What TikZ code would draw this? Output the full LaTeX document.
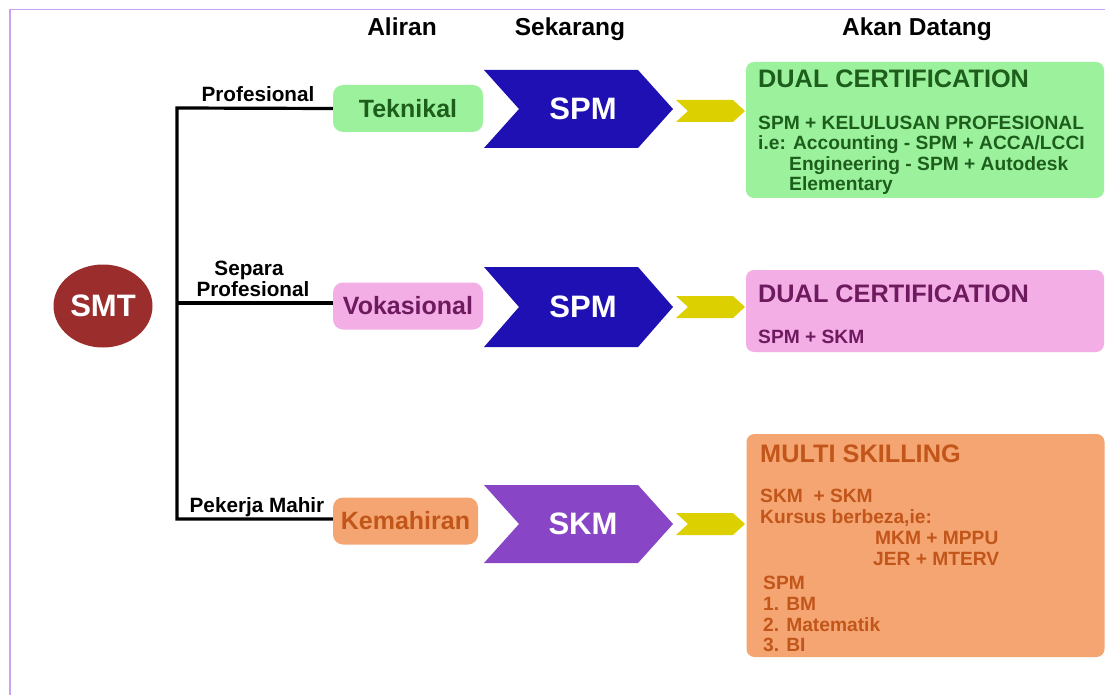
\documentclass[tikz,border=0pt]{standalone}
\usepackage{fontspec}
\setmainfont{Liberation Sans}
\usetikzlibrary{shapes.geometric}
\definecolor{framec}{HTML}{C9A2F2}
\definecolor{smtc}{HTML}{9B2D2D}
\definecolor{gfill}{HTML}{9CF29C}
\definecolor{gtext}{HTML}{1D5E1D}
\definecolor{pfill}{HTML}{F4AEE6}
\definecolor{ptext}{HTML}{6E1A5E}
\definecolor{ofill}{HTML}{F4A572}
\definecolor{otext}{HTML}{C2561A}
\definecolor{spmc}{HTML}{1E10B2}
\definecolor{skmc}{HTML}{8846C6}
\definecolor{yelc}{HTML}{DDD000}
\newcommand{\fsz}[1]{\fontsize{#1}{#1}\selectfont}
\begin{document}
\begin{tikzpicture}[x=1pt,y=-1pt,
  hdr/.style={inner sep=0pt, anchor=base, font=\bfseries\fsz{24.5}},
  brl/.style={inner sep=0pt, anchor=base, font=\bfseries\fsz{20.7}},
  abox/.style={rounded corners=10pt, inner sep=0pt, minimum width=150pt, minimum height=47pt, font=\bfseries\fsz{25}},
  chevtxt/.style={inner sep=0pt, text=white, font=\bfseries\fsz{31}},
  rbox/.style={rounded corners=8pt, inner sep=0pt, minimum width=358pt},
  ttl/.style={inner sep=0pt, anchor=base west, font=\bfseries\fsz{25.3}},
  body/.style={inner sep=0pt, anchor=base west, font=\bfseries\fsz{19.2}},
  tree/.style={line width=3.2pt, black}
]
\useasboundingbox (0,0) rectangle (1105,695);
\fill[white] (0,0) rectangle (1105,695);
\draw[framec, line width=1.6pt] (10,695) -- (10,9.5) -- (1105,9.5);

% headers
\node[hdr] (h1) at (402,36) {Aliran};
\node[hdr] (h2) at (570,36) {Sekarang};
\node[hdr] (h3) at (917,36) {Akan Datang};

% SMT
\node[ellipse, fill=smtc, minimum width=99pt, minimum height=83pt, inner sep=0pt, text=white, font=\bfseries\fsz{31}] (smt) at (103,306) {SMT};

% aliran boxes
\node[abox, fill=gfill, text=gtext] (tek) at (408,108.5) {Teknikal};
\node[abox, fill=pfill, text=ptext] (vok) at (408,306) {Vokasional};
\node[abox, fill=ofill, text=otext, minimum width=145pt] (kem) at (405.5,521) {Kemahiran};

% tree
\coordinate (t1) at (177,108);
\coordinate (t2) at (177,303);
\coordinate (t3) at (177,519);
\draw[tree] (tek.west) -- (t1) -- (t3) -- (t3 -| kem.west);
\draw[tree] (t2) -- (t2 -| vok.west);

% branch labels
\node[brl] (b1) at (258,102) {Profesional};
\node[brl] (b2a) at (249,275) {Separa};
\node[brl] (b2b) at (253,296) {Profesional};
\node[brl] (b3) at (257,512) {Pekerja Mahir};

% chevrons
\fill[spmc] (484,70) -- (638,70) -- (673,109) -- (638,148) -- (484,148) -- (519,109) -- cycle;
\node[chevtxt] (c1) at (583,109) {SPM};
\fill[spmc] (484,267) -- (638,267) -- (673,307) -- (638,347) -- (484,347) -- (519,307) -- cycle;
\node[chevtxt] (c2) at (583,307) {SPM};
\fill[skmc] (484,485) -- (638,485) -- (673,524) -- (638,563) -- (484,563) -- (519,524) -- cycle;
\node[chevtxt] (c3) at (583,524) {SKM};

% yellow arrows
\fill[yelc] (676,100) -- (733,100) -- (745,111) -- (733,122) -- (676,122) -- (688,111) -- cycle;
\fill[yelc] (676,296) -- (733,296) -- (745,307) -- (733,318) -- (676,318) -- (688,307) -- cycle;
\fill[yelc] (676,513) -- (733,513) -- (745,524) -- (733,535) -- (676,535) -- (688,524) -- cycle;

% right boxes
\node[rbox, fill=gfill, minimum height=136pt] (r1) at (925,130) {};
\node[ttl, text=gtext] (r1t) at (758,88) {DUAL CERTIFICATION};
\node[body, text=gtext] (r1a) at (758,130) {SPM + KELULUSAN PROFESIONAL};
\node[body, text=gtext] (r1b) at (758,150) {i.e: Accounting - SPM + ACCA/LCCI};
\node[body, text=gtext] (r1c) at (789,171) {Engineering - SPM + Autodesk};
\node[body, text=gtext] (r1d) at (789,191) {Elementary};

\node[rbox, fill=pfill, minimum height=82pt] (r2) at (925,311) {};
\node[ttl, text=ptext] (r2t) at (758,302) {DUAL CERTIFICATION};
\node[body, text=ptext] (r2a) at (758,343) {SPM + SKM};

\node[rbox, fill=ofill, minimum height=223pt] (r3) at (925.5,545.5) {};
\node[ttl, text=otext] (r3t) at (760,462) {MULTI SKILLING};
\node[body, text=otext] (r3a) at (760,502) {SKM \ + SKM};
\node[body, text=otext] (r3b) at (760,523) {Kursus berbeza,ie:};
\node[body, text=otext] (r3c) at (875,544) {MKM + MPPU};
\node[body, text=otext] (r3d) at (873,565) {JER + MTERV};
\node[body, text=otext] (r3e) at (763,589) {SPM};
\node[body, text=otext] (r3f) at (763,610) {1. BM};
\node[body, text=otext] (r3g) at (763,631) {2. Matematik};
\node[body, text=otext] (r3h) at (763,651) {3. BI};
\end{tikzpicture}
\end{document}
